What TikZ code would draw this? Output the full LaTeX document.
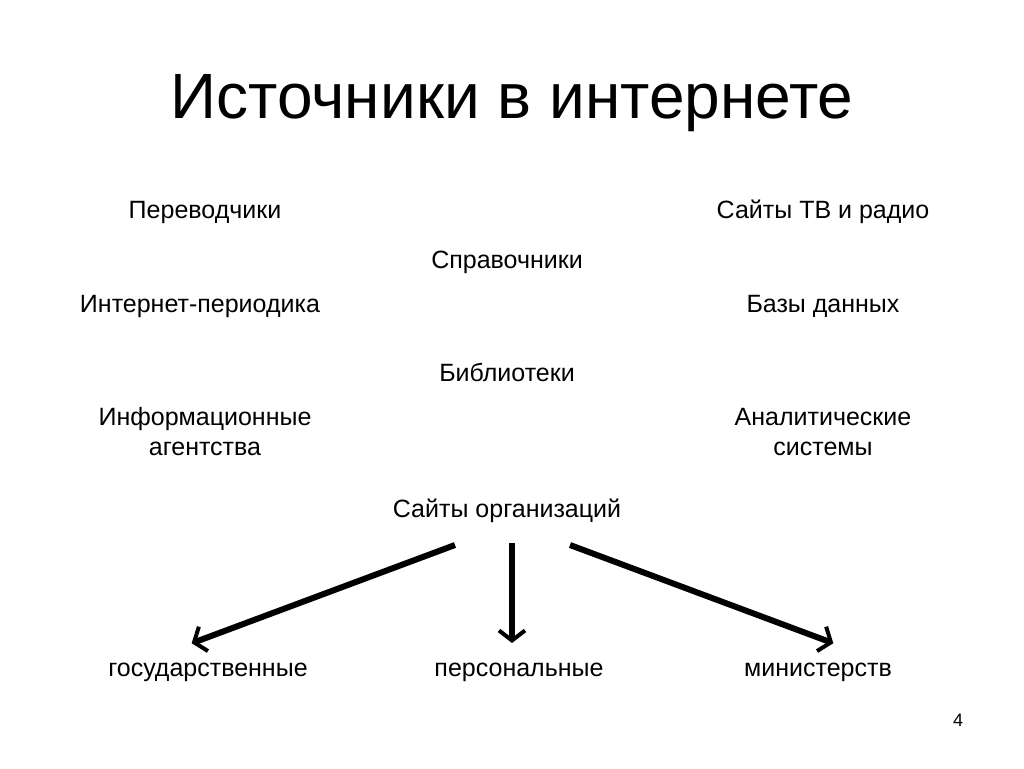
\documentclass[tikz,border=0pt]{standalone}
\usepackage{fontspec}
\setmainfont{Liberation Sans}
\usetikzlibrary{arrows.meta}
\tikzset{
  item/.style={font=\fontsize{25}{30}\selectfont, align=center},
  branch/.style={line width=6pt, -{Straight Barb[length=10pt,width=26pt,line width=4pt,sep=5pt]}}
}
\begin{document}
\begin{tikzpicture}[x=1pt,y=-1pt]
  \useasboundingbox (0,0) rectangle (1024,768);
  \node[font=\fontsize{64}{70}\selectfont] (title) at (512,103) {Источники в интернете};
  \node[item] (trans) at (205,212) {Переводчики};
  \node[item] (tv) at (823,212) {Сайты ТВ и радио};
  \node[item] (ref) at (507,262) {Справочники};
  \node[item] (period) at (200,306) {Интернет-периодика};
  \node[item] (db) at (823,306) {Базы данных};
  \node[item] (lib) at (507,372) {Библиотеки};
  \node[item] (agency) at (205,432) {Информационные\\агентства};
  \node[item] (anal) at (823,432) {Аналитические\\системы};
  \node[item] (org) at (507,511) {Сайты организаций};
  \node[item] (gov) at (208,672) {государственные};
  \node[item] (pers) at (519,672) {персональные};
  \node[item] (min) at (818,672) {министерств};
  \node[font=\fontsize{18}{20}\selectfont] (num) at (958,720) {4};
  \coordinate (s1) at (455,545);
  \coordinate (s2) at (512,543);
  \coordinate (s3) at (570,545);
  \coordinate (e1) at (187,645);
  \coordinate (e2) at (512,648);
  \coordinate (e3) at (838,645);
  \draw[branch] (s1) -- (e1);
  \draw[branch] (s2) -- (e2);
  \draw[branch] (s3) -- (e3);
\end{tikzpicture}
\end{document}
